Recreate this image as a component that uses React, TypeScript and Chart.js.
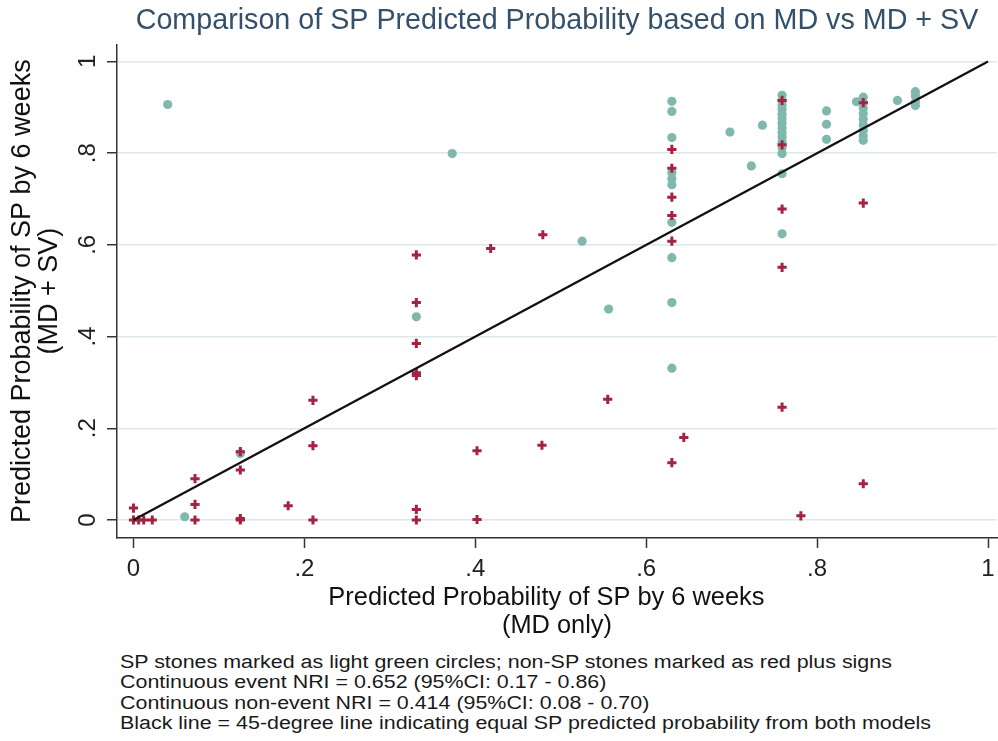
import React, { useEffect, useRef } from "react";
import { Chart, registerables } from "chart.js";

Chart.register(...registerables);

const TITLE = "Comparison of SP Predicted Probability based on MD vs MD + SV";
const X_TITLE = ["Predicted Probability of SP by 6 weeks", "(MD only)"];
const Y_TITLE = ["Predicted Probability of SP by 6 weeks", "(MD + SV)"];
const TICK_VALUES = [0, 0.2, 0.4, 0.6, 0.8, 1];
const TICK_LABELS = ["0", ".2", ".4", ".6", ".8", "1"];
const NOTES = [
  "SP stones marked as light green circles; non-SP stones marked as red plus signs",
  "Continuous event NRI = 0.652 (95%CI: 0.17 - 0.86)",
  "Continuous non-event NRI = 0.414 (95%CI: 0.08 - 0.70)",
  "Black line = 45-degree line indicating equal SP predicted probability from both models",
];

// SP stones (green circles): MD-only probability (x) and MD + SV probability (y)
const spX = [
  0.04, 0.06, 0.125, 0.331, 0.373, 0.525, 0.556,
  0.63, 0.63, 0.63, 0.63, 0.63, 0.63, 0.63, 0.63, 0.63, 0.63,
  0.698, 0.736, 0.723,
  0.759, 0.759, 0.759, 0.759, 0.759, 0.759, 0.759, 0.759, 0.759, 0.759, 0.759, 0.759, 0.759, 0.759, 0.759,
  0.811, 0.811, 0.811,
  0.854, 0.854, 0.854, 0.854, 0.854, 0.854, 0.854, 0.854, 0.854, 0.846,
  0.894, 0.915, 0.915, 0.915, 0.915,
];
const spY = [
  0.906, 0.007, 0.145, 0.443, 0.799, 0.608, 0.46,
  0.913, 0.891, 0.834, 0.757, 0.744, 0.731, 0.649, 0.572, 0.474, 0.331,
  0.846, 0.861, 0.772,
  0.926, 0.915, 0.905, 0.895, 0.885, 0.875, 0.865, 0.855, 0.845, 0.835, 0.825, 0.812, 0.799, 0.755, 0.624,
  0.892, 0.863, 0.83,
  0.922, 0.91, 0.898, 0.886, 0.874, 0.862, 0.85, 0.838, 0.828, 0.912,
  0.915, 0.934, 0.925, 0.912, 0.904,
];

// non-SP stones (red plus signs)
const nonSpX = [
  0, 0, 0.006, 0.012, 0.022, 0.072, 0.072, 0.072, 0.125, 0.125, 0.125, 0.125, 0.181,
  0.21, 0.21, 0.21, 0.331, 0.331, 0.331, 0.331, 0.331, 0.331, 0.331,
  0.402, 0.402, 0.418, 0.478, 0.479, 0.555,
  0.63, 0.63, 0.63, 0.63, 0.63, 0.63, 0.644,
  0.759, 0.759, 0.759, 0.759, 0.759, 0.781, 0.854, 0.854, 0.854,
];
const nonSpY = [
  0.026, 0, 0, 0, 0, 0.09, 0.034, 0, 0.149, 0.109, 0.003, 0, 0.031,
  0.261, 0.162, 0, 0.578, 0.474, 0.385, 0.321, 0.315, 0.023, 0,
  0.151, 0.001, 0.592, 0.163, 0.622, 0.263,
  0.808, 0.767, 0.704, 0.664, 0.608, 0.125, 0.18,
  0.915, 0.818, 0.678, 0.551, 0.246, 0.009, 0.91, 0.691, 0.079,
];

// 45-degree reference line
const lineX = [0, 1];
const lineY = [0, 1];

const GREEN = "#80b8ae";
const RED = "#a32440";
const AXIS = "#333333";
const GRID = "#dce8eb";
const FONT = "'Liberation Sans', Arial, Helvetica, sans-serif";

const zip = (xs: number[], ys: number[]) => xs.map((x, i) => ({ x, y: ys[i] }));

export default function App() {
  const ref = useRef<HTMLCanvasElement | null>(null);

  useEffect(() => {
    if (!ref.current) return;
    const chart = new Chart(ref.current, {
      type: "scatter",
      data: {
        datasets: [
          {
            type: "line",
            data: zip(lineX, lineY),
            borderColor: "#111111",
            borderWidth: 2.3,
            pointRadius: 0,
            fill: false,
            order: 0,
          } as any,
          {
            data: zip(nonSpX, nonSpY),
            pointStyle: "cross",
            pointRadius: 4.6,
            borderColor: RED,
            backgroundColor: RED,
            borderWidth: 3,
            order: 1,
          },
          {
            data: zip(spX, spY),
            pointStyle: "circle",
            pointRadius: 4.6,
            backgroundColor: GREEN,
            borderColor: GREEN,
            borderWidth: 0,
            order: 2,
          },
        ],
      },
      options: {
        responsive: false,
        animation: false,
        devicePixelRatio: 1,
        events: [],
        layout: { autoPadding: false, padding: { left: 0, right: 1, top: 0, bottom: 0 } },
        plugins: {
          legend: { display: false },
          tooltip: { enabled: false },
          title: {
            display: true,
            text: TITLE,
            color: "#34506a",
            fullSize: false,
            font: { family: FONT, size: 28.7, weight: "normal", lineHeight: 1.2 },
            padding: { top: 4, bottom: 6 },
          },
        },
        scales: {
          x: {
            type: "linear",
            min: -0.0193,
            max: 1.0105,
            afterBuildTicks: (s: any) => {
              s.ticks = TICK_VALUES.map((v) => ({ value: v }));
            },
            afterFit: (s: any) => {
              s.height = 107;
              s.paddingLeft = 0;
              s.paddingRight = 0;
            },
            ticks: {
              callback: (_v: any, i: number) => TICK_LABELS[i],
              color: "#222",
              font: { family: FONT, size: 24 },
              padding: 7,
              maxRotation: 0,
              minRotation: 0,
            },
            grid: {
              display: true,
              drawOnChartArea: false,
              drawTicks: true,
              tickLength: 10,
              tickColor: AXIS,
              tickWidth: 1.5,
            },
            border: { display: true, color: AXIS, width: 1.5 },
            title: {
              display: true,
              text: [X_TITLE[0] + "\u00a0\u00a0\u00a0", X_TITLE[1]],
              color: "#111",
              font: { family: FONT, size: 25.4, lineHeight: 1.1 },
              padding: { top: 0, bottom: 5 },
            },
          },
          y: {
            type: "linear",
            min: -0.0393,
            max: 1.037,
            afterBuildTicks: (s: any) => {
              s.ticks = TICK_VALUES.map((v) => ({ value: v }));
            },
            afterFit: (s: any) => {
              s.width = 117;
              s.paddingTop = 0;
              s.paddingBottom = 0;
            },
            ticks: {
              callback: (_v: any, i: number) => TICK_LABELS[i],
              color: "#222",
              font: { family: FONT, size: 24 },
              padding: 9,
              minRotation: 90,
              maxRotation: 90,
              crossAlign: "center",
            },
            grid: {
              display: true,
              color: GRID,
              lineWidth: 1.5,
              drawTicks: true,
              tickLength: 10,
              tickColor: AXIS,
              tickWidth: 1.5,
            },
            border: { display: true, color: AXIS, width: 1.5 },
            title: {
              display: true,
              text: Y_TITLE,
              color: "#111",
              font: { family: FONT, size: 27, lineHeight: 1.0 },
              padding: { top: 9, bottom: 0 },
            },
          },
        },
      } as any,
    });
    return () => chart.destroy();
  }, []);

  return (
    <div style={{ position: "absolute", left: 0, top: 0, width: 998, height: 741, background: "#fff" }}>
      <canvas ref={ref} width={998} height={645} style={{ display: "block" }} />
      <div
        style={{
          position: "absolute",
          left: 120,
          top: 652,
          fontFamily: FONT,
          fontSize: 18,
          lineHeight: "20.3px",
          color: "#1a1a1a",
          whiteSpace: "nowrap",
          transform: "scaleX(1.19)",
          transformOrigin: "0 0",
        }}
      >
        {NOTES.map((n, i) => (
          <div key={i}>{n}</div>
        ))}
      </div>
    </div>
  );
}
